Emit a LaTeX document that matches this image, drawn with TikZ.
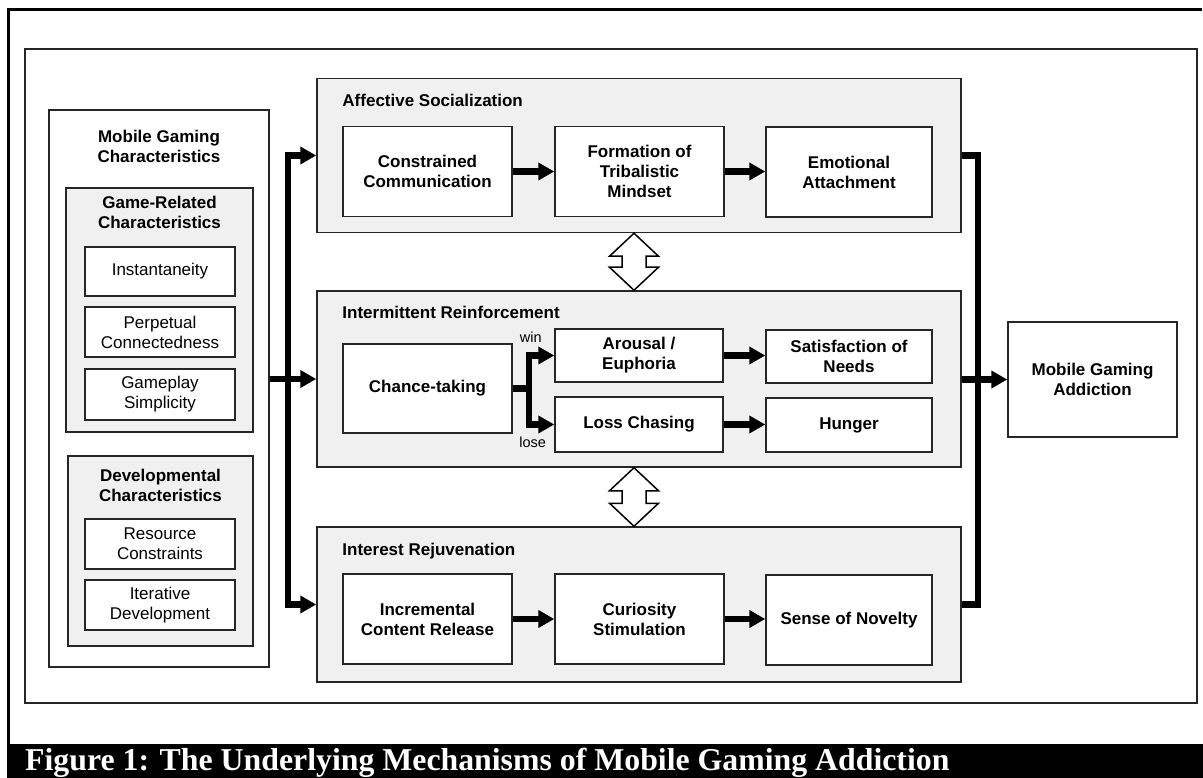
\documentclass[tikz,border=0pt]{standalone}
\usepackage{fontspec}
\setmainfont{Liberation Sans}
\newfontfamily\capfont{Liberation Serif}
\usetikzlibrary{arrows.meta,calc}
\definecolor{panel}{HTML}{F0F0F0}
\definecolor{edge}{HTML}{262626}
\begin{document}
\begin{tikzpicture}[x=1pt,y=-1pt,
  every node/.style={font=\fontsize{17}{20}\selectfont, text=black},
  card/.style={draw=edge, line width=1.5pt, fill=white, align=center, inner sep=2pt},
  boldcard/.style={card, font=\bfseries\fontsize{17}{20}\selectfont},
  panelbox/.style={draw=edge, line width=1.5pt, fill=panel, inner sep=0pt},
  headline/.style={font=\bfseries\fontsize{17}{20}\selectfont, align=center, inner sep=0pt},
  grouptitle/.style={font=\bfseries\fontsize{17}{20}\selectfont, anchor=base west, inner sep=0pt},
  tag/.style={font=\fontsize{14.5}{17}\selectfont, inner sep=0pt},
  bus/.style={line width=6.5pt, line join=miter},
  flow/.style={bus, -{Triangle[length=16pt,width=17pt]}},
  twoflow/.style={bus, {Triangle[length=16pt,width=17pt]}-{Triangle[length=16pt,width=17pt]}},
  swap/.style={draw=black, line width=1.5pt, fill=white, line join=miter}
]
\useasboundingbox (0,0) rectangle (1203,778);
\clip (0,0) rectangle (1203,778);

% page frame, inner frame and caption band
\draw[line width=3pt] (1201.5,10) -- (8,10) -- (8,760);
\draw[draw=edge, line width=1.8pt] (25,49) rectangle (1197,703);
\fill[black] (6.5,744) rectangle (1203,778);
\node[anchor=base west, inner sep=0pt, text=white,
      font=\capfont\bfseries\fontsize{31.8}{34}\selectfont] (cap) at (25,770)
  {Figure 1: The Underlying Mechanisms of Mobile Gaming Addiction};

% left column: characteristics
\node[card, minimum width=220pt, minimum height=557pt] (mgc) at (159,388.5) {};
\node[headline] (mgct) at ($(mgc.north)+(0,36.7)$) {Mobile Gaming\\Characteristics};
\node[panelbox, minimum width=187pt, minimum height=244pt] (grc) at (159.5,310) {};
\node[headline] (grct) at ($(grc.north)+(0,25.5)$) {Game-Related\\Characteristics};
\node[card, minimum width=150pt, minimum height=49pt] (inst) at (160,271.5) {Instantaneity};
\node[card, minimum width=150pt, minimum height=50pt] (perp) at (160,332) {Perpetual\\Connectedness};
\node[card, minimum width=150pt, minimum height=51pt] (simp) at (160,394.5) {Gameplay\\Simplicity};
\node[panelbox, minimum width=185pt, minimum height=190pt] (dev) at (160.5,551) {};
\node[headline] (devt) at ($(dev.north)+(0,30.5)$) {Developmental\\Characteristics};
\node[card, minimum width=150pt, minimum height=50pt] (res) at (160,544) {Resource\\Constraints};
\node[card, minimum width=150pt, minimum height=50pt] (iter) at (160,605) {Iterative\\Development};

% mechanism groups
\node[panelbox, minimum width=644pt, minimum height=154pt] (as) at (639,155.5) {};
\node[panelbox, minimum width=644pt, minimum height=176pt] (ir) at (639,379) {};
\node[panelbox, minimum width=644pt, minimum height=155pt] (irj) at (639,604.5) {};
\node[grouptitle] (ast) at ($(as.north west)+(26,29)$) {Affective Socialization};
\node[grouptitle] (irt) at ($(ir.north west)+(26,28)$) {Intermittent Reinforcement};
\node[grouptitle] (irjt) at ($(irj.north west)+(26,29)$) {Interest Rejuvenation};

% affective socialization chain
\node[boldcard, minimum width=169pt, minimum height=90pt] (cc) at (427.5,171.5) {Constrained\\Communication};
\node[boldcard, minimum width=169pt, minimum height=90pt] (ft) at (639.5,171.5) {Formation of\\Tribalistic\\Mindset};
\node[boldcard, minimum width=166pt, minimum height=90pt] (ea) at (849,172) {Emotional\\Attachment};

% intermittent reinforcement chain
\node[boldcard, minimum width=169pt, minimum height=89pt] (ct) at (427.5,388.5) {Chance-taking};
\node[boldcard, minimum width=168pt, minimum height=53pt] (ar) at (639,355.5) {Arousal /\\Euphoria};
\node[boldcard, minimum width=168pt, minimum height=55pt] (lo) at (639,424.5) {Loss Chasing};
\node[boldcard, minimum width=166pt, minimum height=53pt] (sn) at (849,356.5) {Satisfaction of\\Needs};
\node[boldcard, minimum width=166pt, minimum height=54pt] (hu) at (849,425) {Hunger};

% interest rejuvenation chain
\node[boldcard, minimum width=169pt, minimum height=90pt] (icr) at (427.5,619) {Incremental\\Content Release};
\node[boldcard, minimum width=169pt, minimum height=90pt] (cs) at (639.5,619) {Curiosity\\Stimulation};
\node[boldcard, minimum width=166pt, minimum height=90pt] (nov) at (849,620) {Sense of Novelty};

% outcome
\node[boldcard, minimum width=169pt, minimum height=115pt] (add) at (1092.5,379.5) {Mobile Gaming\\Addiction};

% two-way links between the groups
\coordinate (t1) at ($(as.south)+(-5,0)$);
\coordinate (b1) at ($(ir.north)+(-5,0)$);
\coordinate (t2) at ($(ir.south)+(-5,0)$);
\coordinate (b2) at ($(irj.north)+(-5,0)$);
\draw[swap] (t1) -- ++(-24.5,23) -- ++(12.5,0) -- ($(b1)+(-12,-23)$) -- ++(-12.5,0) -- (b1)
  -- ++(24.5,-23) -- ++(-12.5,0) -- ($(t1)+(12,23)$) -- ++(12.5,0) -- cycle;
\draw[swap] (t2) -- ++(-24.5,23) -- ++(12.5,0) -- ($(b2)+(-12,-23)$) -- ++(-12.5,0) -- (b2)
  -- ++(24.5,-23) -- ++(-12.5,0) -- ($(t2)+(12,23)$) -- ++(12.5,0) -- cycle;

% characteristics feed all three groups
\coordinate (jl) at (288,379);
\draw[flow] (mgc.east |- ir.west) -- (ir.west);
\draw[twoflow] (as.west) -| (jl) |- (irj.west);

% chains inside the groups
\draw[flow] (cc.east) -- (ft.west);
\draw[flow] (ft.east) -- (ft.east -| ea.west);
\draw[flow] (icr.east) -- (cs.west);
\draw[flow] (cs.east) -- (cs.east -| nov.west);
\draw[flow] (ar.east) -- (ar.east -| sn.west);
\draw[flow] (lo.east) -- (lo.east -| hu.west);

% win / lose branch
\coordinate (jb) at ($(ct.east)+(16,0)$);
\draw[bus] (ct.east) -- (jb);
\draw[twoflow] (lo.west) -| (jb) |- (ar.west);
\node[tag] (win) at ($(jb |- ar.west)+(2,-18.5)$) {win};
\node[tag] (lose) at ($(jb |- lo.west)+(4,17.5)$) {lose};

% groups converge on the outcome
\coordinate (jr) at (978,379.5);
\draw[bus] (as.east) -| (jr) |- (irj.east);
\draw[flow] (ir.east |- add.west) -- (add.west);
\end{tikzpicture}
\end{document}
